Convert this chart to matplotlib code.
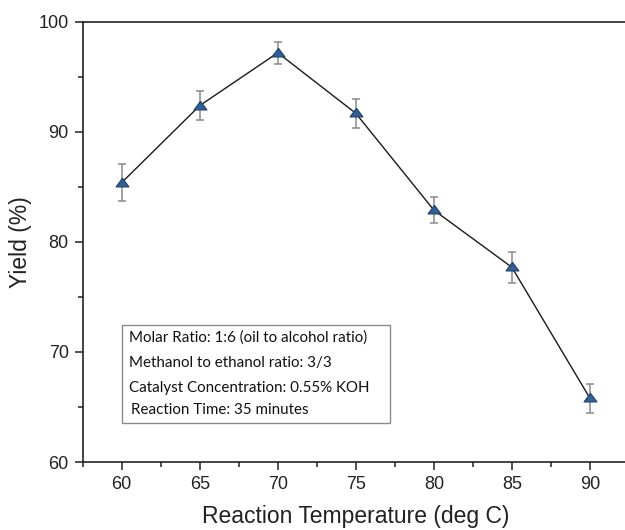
import matplotlib.pyplot as plt
from matplotlib.patches import Rectangle
from matplotlib.ticker import MultipleLocator

temperature = [60, 65, 70, 75, 80, 85, 90]
yield_pct = [85.4, 92.4, 97.2, 91.7, 82.9, 77.7, 65.8]
yield_err = [1.65, 1.3, 1.0, 1.3, 1.2, 1.4, 1.3]

conditions = [
    'Molar Ratio: 1:6 (oil to alcohol ratio)',
    'Methanol to ethanol ratio: 3/3',
    'Catalyst Concentration: 0.55% KOH',
    'Reaction Time: 35 minutes',
]

plt.rcParams['font.family'] = ['Liberation Sans', 'DejaVu Sans']

fig = plt.figure(figsize=(6.25, 5.3), dpi=100)
ax = fig.add_axes([0.1323, 0.1283, 0.874, 0.8302])

# squat triangle marker
tri = [(0, 0.5), (-0.62, -0.33), (0.62, -0.33), (0, 0.5)]

ax.errorbar(temperature, yield_pct, yerr=yield_err, fmt='none',
            ecolor='#8a8a8a', elinewidth=1.1, capsize=3.2, capthick=1.1,
            zorder=2)
ax.plot(temperature, yield_pct, color='#1a1a1a', lw=1.0, zorder=3)
ax.plot(temperature, yield_pct, ls='none', marker=tri, ms=9.3,
        mfc='#2f6098', mec='#1e3f66', mew=0.8, zorder=4)

ax.set_xlim(57.5, 92.5)
ax.set_ylim(60, 100)
ax.xaxis.set_major_locator(MultipleLocator(5))
ax.xaxis.set_minor_locator(MultipleLocator(2.5))
ax.yaxis.set_major_locator(MultipleLocator(10))
ax.yaxis.set_minor_locator(MultipleLocator(5))

for s in ax.spines.values():
    s.set_linewidth(1.2)
    s.set_color('#222222')

ax.tick_params(which='major', direction='out', length=6, width=1.1,
               labelsize=13, pad=4, color='#222222', labelcolor='#222222')
ax.tick_params(which='minor', direction='out', length=3.5, width=1.1,
               color='#222222')

ax.set_xlabel('Reaction Temperature (deg C)', fontsize=16.5, labelpad=9,
              color='#222222')
ax.set_ylabel('Yield (%)', fontsize=16.5, labelpad=5, color='#222222')

# conditions box
ax.add_patch(Rectangle((0.072, 0.0886), 0.49, 0.2224, transform=ax.transAxes,
                       fill=False, ec='#8c8c8c', lw=1.0, zorder=5))
line_y = [0.282, 0.225, 0.168, 0.118]
for i, (txt, yy) in enumerate(zip(conditions, line_y)):
    xx = 0.0848 if i < 3 else 0.0885
    ax.text(xx, yy, txt, transform=ax.transAxes, ha='left', va='center',
            fontsize=10.9, family=['Lato', 'DejaVu Sans'], color='#111111')

fig.savefig('out.png', dpi=100)
